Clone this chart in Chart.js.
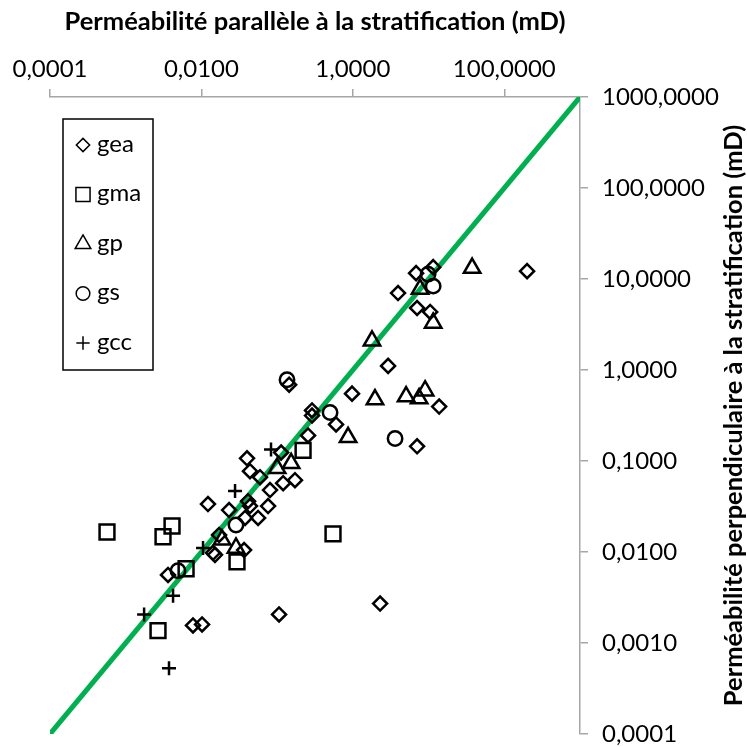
<!DOCTYPE html>
<html>
<head>
<meta charset="utf-8">
<script src="https://cdn.jsdelivr.net/npm/chart.js@4.4.1/dist/chart.umd.min.js"></script>
<style>
  html, body { margin: 0; padding: 0; background: #fff; }
  #wrap { width: 747px; height: 747px; }
</style>
</head>
<body>
<div id="wrap"><canvas id="chart" width="747" height="747"></canvas></div>
<script>
/* ---- data (mD) ---- */
const geaX = [6.84, 11.5, 3.95, 7.05, 10.5, 200, 2.92, 0.975, 13.8, 0.289, 0.289, 0.6, 0.256, 7.05, 0.144, 0.113, 0.040, 0.0438, 0.0594, 0.0805, 0.12, 0.172, 0.0122, 0.0232, 0.0413, 0.0438, 0.0759, 0.056, 0.0377, 0.0171, 0.0142, 0.0151, 0.0366, 0.00362, 0.00774, 0.0102, 0.106, 2.29];
const geaY = [11.6, 13.5, 7.0, 4.8, 4.34, 12.2, 1.11, 0.55, 0.397, 0.359, 0.316, 0.252, 0.191, 0.145, 0.69, 0.124, 0.107, 0.0773, 0.0664, 0.0479, 0.057, 0.0615, 0.0336, 0.0289, 0.0362, 0.032, 0.032, 0.0237, 0.0237, 0.0154, 0.0098, 0.0093, 0.0105, 0.0056, 0.00156, 0.0016, 0.00206, 0.00271];
const gmaX = [0.000566, 0.00311, 0.00409, 0.547, 0.0295, 0.00267, 0.00627, 0.22];
const gmaY = [0.0166, 0.0147, 0.0193, 0.0158, 0.0078, 0.00137, 0.00655, 0.131];
const gpX = [37.6, 7.72, 11.5, 1.79, 1.96, 5.05, 7.5, 9.0, 0.865, 0.153, 0.0998, 0.0187, 0.0286];
const gpY = [13.2, 7.75, 3.29, 2.09, 0.473, 0.51, 0.485, 0.593, 0.182, 0.0944, 0.0832, 0.0136, 0.0111];
const gsX = [9.85, 11.5, 0.135, 0.5, 3.61, 0.0286, 0.0049];
const gsY = [11.3, 8.35, 0.78, 0.341, 0.177, 0.0198, 0.00622];
const gccX = [0.083, 0.0278, 0.0105, 0.00422, 0.00175, 0.00373];
const gccY = [0.134, 0.0467, 0.0111, 0.00331, 0.00206, 0.000527];
const diagX = [0.0001, 1000];
const diagY = [0.0001, 1000];

const xTicks = [0.0001, 0.01, 1, 100];
const yTicks = [0.0001, 0.001, 0.01, 0.1, 1, 10, 100, 1000];
const xTitle = 'Perméabilité parallèle à la stratification (mD)';
const yTitle = 'Perméabilité perpendiculaire à la stratification (mD)';

const FONT = 'Lato, "Open Sans", sans-serif';
const AXIS_GREY = '#a6a6a6';
const fmt = v => Number(v).toFixed(4).replace('.', ',');
const pts = (xs, ys) => xs.map((x, i) => ({ x, y: ys[i] }));

function series(label, xs, ys, style, radius){
  return {
    label, data: pts(xs, ys), showLine: false,
    pointStyle: style, pointRadius: radius, pointHoverRadius: radius,
    borderColor: '#000', backgroundColor: 'rgba(0,0,0,0)', borderWidth: 2.5, order: 0
  };
}

const datasets = [
  { label: 'diag', data: pts(diagX, diagY), showLine: true, pointRadius: 0,
    borderColor: '#00b050', borderWidth: 5, order: 10 },
  series('gea', geaX, geaY, 'rectRot', 7),
  series('gma', gmaX, gmaY, 'rect', 10.5),
  series('gp', gpX, gpY, 'triangle', 9.5),
  series('gs', gsX, gsY, 'circle', 7.2),
  series('gcc', gccX, gccY, 'cross', 7)
];

/* legend box + titles drawn on the canvas */
const decor = {
  id: 'decor',
  afterDraw(chart){
    const { ctx, chartArea: a } = chart;
    ctx.save();
    ctx.fillStyle = '#000';
    ctx.font = 'bold 25.5px ' + FONT;
    ctx.textAlign = 'center';
    ctx.textBaseline = 'middle';
    ctx.fillText(xTitle, (a.left + a.right) / 2, 22);
    ctx.save();
    ctx.translate(734, (a.top + a.bottom) / 2);
    ctx.rotate(-Math.PI / 2);
    ctx.fillText(yTitle, 0, 0);
    ctx.restore();

    // legend
    ctx.strokeStyle = '#000';
    ctx.lineWidth = 1.5;
    ctx.strokeRect(63, 119, 90, 251);
    ctx.font = '24px ' + FONT;
    ctx.textAlign = 'left';
    chart.data.datasets.filter(d => d.label !== 'diag').forEach((d, i) => {
      const y = 145 + i * 49.5;
      ctx.strokeStyle = '#000';
      ctx.fillStyle = 'rgba(0,0,0,0)';
      Chart.helpers.drawPoint(ctx, { pointStyle: d.pointStyle, radius: d.pointRadius * 0.95, borderWidth: 2.5, rotation: 0 }, 83, y);
      ctx.fillStyle = '#000';
      ctx.fillText(d.label, 97, y - 1);
    });
    ctx.restore();
  }
};

const tickFont = { family: FONT, size: 24 };

new Chart(document.getElementById('chart'), {
  type: 'scatter',
  data: { datasets },
  options: {
    responsive: false,
    animation: false,
    layout: { padding: { left: 50, right: 0, top: 0, bottom: 10 } },
    plugins: { legend: { display: false }, tooltip: { enabled: false } },
    scales: {
      x: {
        type: 'logarithmic', position: 'top', min: 0.0001, max: 1000,
        afterBuildTicks: s => { s.ticks = xTicks.map(v => ({ value: v })); },
        afterFit: s => { s.height = 97; s.paddingLeft = 0; s.paddingRight = 0; },
        grid: { drawOnChartArea: false, drawTicks: true, tickLength: 8, color: AXIS_GREY, lineWidth: 1.5 },
        border: { color: AXIS_GREY, width: 1.5 },
        ticks: { font: tickFont, color: '#000', padding: 5, maxRotation: 0, autoSkip: false, callback: v => fmt(v) }
      },
      y: {
        type: 'logarithmic', position: 'right', min: 0.0001, max: 1000,
        afterBuildTicks: s => { s.ticks = yTicks.map(v => ({ value: v })); },
        afterFit: s => { s.width = 167; s.paddingTop = 0; s.paddingBottom = 0; },
        grid: { drawOnChartArea: false, drawTicks: true, tickLength: 8, color: AXIS_GREY, lineWidth: 1.5 },
        border: { color: AXIS_GREY, width: 1.5 },
        ticks: { font: tickFont, color: '#000', padding: 14, autoSkip: false, callback: v => fmt(v) }
      }
    }
  },
  plugins: [decor]
});
</script>
</body>
</html>
